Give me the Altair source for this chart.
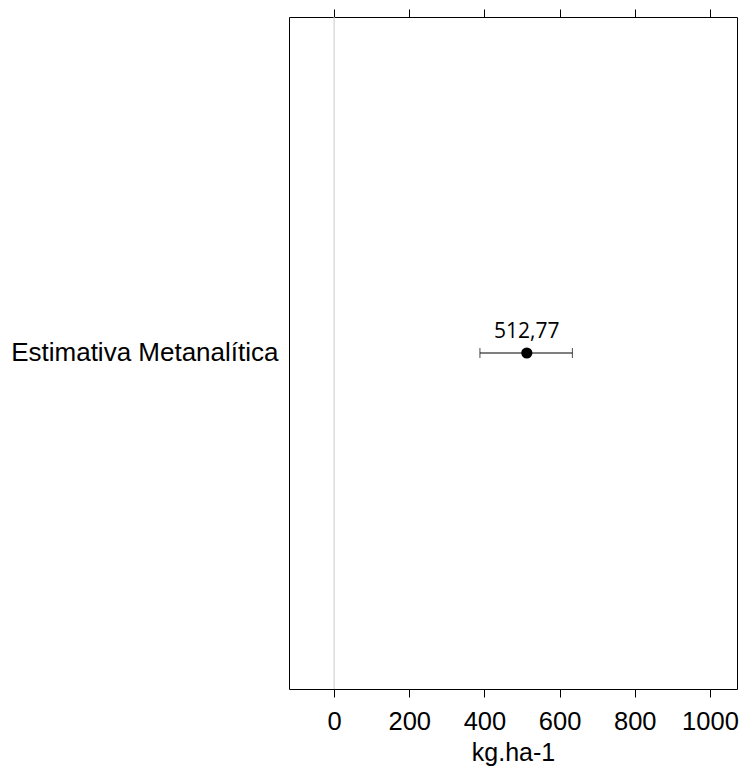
import altair as alt
import pandas as pd

study = ["Estimativa Metanalítica"]
estimate = [512.77]
lower = [388]
upper = [634]
labels = ["512,77"]
x_ticks = [0, 200, 400, 600, 800, 1000]

df = pd.DataFrame({"study": study, "est": estimate, "lo": lower, "hi": upper, "lab": labels})
zero_df = pd.DataFrame({"z": [0]})

FONT = "Liberation Sans"
xscale = alt.Scale(domain=[-120, 1072], nice=False, zero=False)

ybase = alt.Y("study:N", title=None,
              axis=alt.Axis(labelFontSize=26, labelFont=FONT, labelColor="black",
                            domain=False, ticks=False, labelPadding=11, labelLimit=500))

zero = alt.Chart(zero_df).mark_rule(color="#cccccc", strokeWidth=1).encode(
    x=alt.X("z:Q", scale=xscale,
            axis=alt.Axis(values=x_ticks, orient="bottom", title="kg.ha-1", format="d",
                          labelFontSize=25.5, labelFont=FONT, labelColor="black",
                          titleFontSize=25, titleFont=FONT, titleFontWeight="normal",
                          titleColor="black", titlePadding=6,
                          tickSize=8, tickColor="black", domain=False, grid=False,
                          labelPadding=12))
)

top_axis = alt.Chart(zero_df).mark_rule(opacity=0).encode(
    x=alt.X("z:Q", scale=xscale,
            axis=alt.Axis(values=x_ticks, orient="top", labels=False, title=None,
                          tickSize=8, tickColor="black", domain=False, grid=False))
)

bar = alt.Chart(df).mark_rule(color="black", strokeWidth=1).encode(
    x=alt.X("lo:Q", scale=xscale, axis=None), x2="hi:Q", y=ybase
)
caps_lo = alt.Chart(df).mark_tick(color="black", size=10, thickness=1, orient="vertical").encode(
    x=alt.X("lo:Q", scale=xscale, axis=None), y=ybase
)
caps_hi = alt.Chart(df).mark_tick(color="black", size=10, thickness=1, orient="vertical").encode(
    x=alt.X("hi:Q", scale=xscale, axis=None), y=ybase
)
pt = alt.Chart(df).mark_point(filled=True, color="black", size=125, opacity=1).encode(
    x=alt.X("est:Q", scale=xscale, axis=None), y=ybase
)
txt = alt.Chart(df).mark_text(font="Open Sans", fontSize=21, color="black", dy=-21).encode(
    x=alt.X("est:Q", scale=xscale, axis=None), y=ybase, text="lab:N"
)

chart = alt.layer(zero, top_axis, bar, caps_lo, caps_hi, pt, txt).resolve_axis(
    x="independent"
).properties(
    width=448, height=672,
    autosize=alt.AutoSizeParams(type="none"),
    padding={"left": 281, "top": 9, "right": 2, "bottom": 77},
    background="white"
).configure_view(stroke="black", strokeWidth=1)

chart.save("out.html", embed_options={"renderer": "svg", "actions": False})
